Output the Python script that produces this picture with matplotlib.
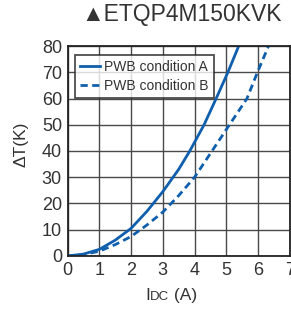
import matplotlib.pyplot as plt

plt.rcParams['font.family'] = ['Liberation Sans', 'DejaVu Sans']

# PWB condition A (solid)
idc_a = [0, 0.5, 1.0, 1.5, 2.0, 2.5, 3.0, 3.5, 3.85, 4.3, 4.68, 5.05, 5.39]
dt_a = [0, 0.7, 2.5, 6.0, 10.5, 17.0, 24.5, 33.0, 40, 50, 60, 70, 80]

# PWB condition B (dashed)
idc_b = [0, 0.5, 1.0, 1.5, 2.0, 2.5, 3.0, 3.5, 4.0, 4.55, 5.1, 5.65, 5.98, 6.33]
dt_b = [0, 0.5, 1.8, 4.3, 7.4, 11.8, 16.7, 23.0, 30, 40, 50, 60, 70, 80]

title = '\u25b2ETQP4M150KVK'
blue = '#0f5fad'
txt = '#333333'

fig = plt.figure(figsize=(2.91, 3.11), dpi=100)
ax = fig.add_axes([0.232, 0.177, 0.764, 0.675])

ax.plot(idc_a, dt_a, '-', color=blue, lw=2, label='PWB condition A')
ax.plot(idc_b, dt_b, '--', color=blue, lw=2, dashes=(2.6, 1.6), label='PWB condition B')

ax.set_xlim(0, 7)
ax.set_ylim(0, 80)
ax.set_xticks(range(0, 8))
ax.set_yticks(range(0, 81, 10))
ax.grid(True, color='#4a4a4a', lw=1.0)
ax.set_axisbelow(True)
for s in ax.spines.values():
    s.set_color('#222222')
    s.set_linewidth(1.3)
ax.tick_params(length=0, labelsize=13, labelcolor=txt, pad=4)

leg = ax.legend(loc='upper left', bbox_to_anchor=(0.035, 0.955), fontsize=10,
                frameon=True, fancybox=False, handlelength=1.4,
                handletextpad=0.35, borderpad=0.35, labelspacing=0.35,
                borderaxespad=0)
leg.get_frame().set_edgecolor('#222222')
leg.get_frame().set_linewidth(1.3)
for t in leg.get_texts():
    t.set_color(txt)

fig.text(0.97, 0.915, title, ha='right', va='bottom', fontsize=16.5, color=txt)

# y label
fig.text(0.072, 0.535, '\u0394T(K)', rotation=90, ha='center', va='center',
         fontsize=12.5, color=txt)

# x label "IDC (A)" with small-caps DC
t1 = fig.text(0.498, 0.027, 'I', ha='left', va='bottom', fontsize=12.5, color=txt)
t2 = ax.annotate('DC', xy=(1, 0), xycoords=t1, ha='left', va='bottom',
                 fontsize=9.5, color=txt, annotation_clip=False)
ax.annotate(' (A)', xy=(1, 0), xycoords=t2, ha='left', va='bottom',
            fontsize=12.5, color=txt, annotation_clip=False)

fig.savefig('out.png', dpi=100)
